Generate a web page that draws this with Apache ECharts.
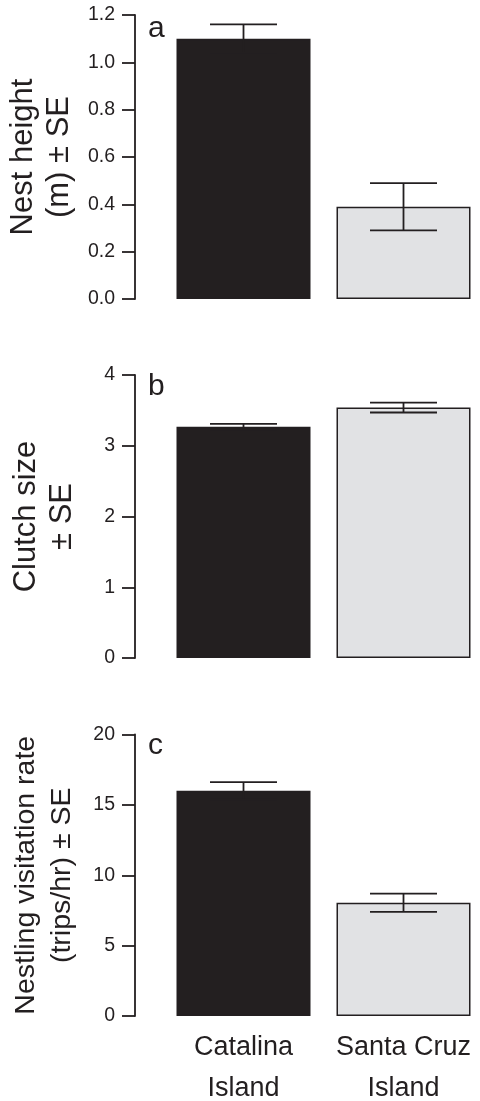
<!DOCTYPE html>
<html>
<head>
<meta charset="utf-8">
<script src="https://cdn.jsdelivr.net/npm/echarts@6/dist/echarts.min.js"></script>
<style>
html,body{margin:0;padding:0;background:#fff;}
#chart{width:480px;height:1101px;}
</style>
</head>
<body>
<div id="chart"></div>
<script>
// ---- data ----
const categories = ['Catalina\nIsland', 'Santa Cruz\nIsland'];
const nestHeight = [1.10, 0.39];
const nestHeightSE = [0.06, 0.10];
const clutchSize = [3.27, 3.54];
const clutchSizeSE = [0.04, 0.07];
const visitRate = [16.0, 8.05];
const visitRateSE = [0.62, 0.65];
const ticksA = ['0.0', '0.2', '0.4', '0.6', '0.8', '1.0', '1.2'];
const ticksB = ['0', '1', '2', '3', '4'];
const ticksC = ['0', '5', '10', '15', '20'];
const panelLetters = ['a', 'b', 'c'];
const yTitles = ['Nest height\n(m) \u00b1 SE', 'Clutch size\n\u00b1 SE', 'Nestling visitation rate\n(trips/hr) \u00b1 SE'];

// ---- style ----
const INK = '#231f20';
const FILLS = ['#231f20', '#e1e2e4'];
const FONT = "'Liberation Sans', Arial, Helvetica, sans-serif";
const panels = [
  {vals: nestHeight, se: nestHeightSE, ticks: ticksA, top: 15, height: 284, titleSize: 31, letterY: 31},
  {vals: clutchSize, se: clutchSizeSE, ticks: ticksB, top: 375, height: 283, titleSize: 31, letterY: 389},
  {vals: visitRate, se: visitRateSE, ticks: ticksC, top: 734.5, height: 281.5, titleSize: 28.5, letterY: 748}
];

const grid = [], xAxis = [], yAxis = [], series = [], graphic = [];
panels.forEach((p, k) => {
  grid.push({left: 163.5, width: 320, top: p.top, height: p.height, containLabel: false, outerBoundsMode: 'none'});
  const isLast = k === panels.length - 1;
  xAxis.push({
    type: 'category', gridIndex: k, data: categories,
    axisLine: {show: false}, axisTick: {show: false},
    axisLabel: {show: isLast, color: INK, fontFamily: FONT, fontSize: 27, lineHeight: 41, margin: 11, interval: 0}
  });
  const tmin = parseFloat(p.ticks[0]);
  const tmax = parseFloat(p.ticks[p.ticks.length - 1]);
  const step = parseFloat(p.ticks[1]) - tmin;
  yAxis.push({
    type: 'value', gridIndex: k, min: tmin, max: tmax, interval: step,
    offset: 28.5,
    splitLine: {show: false},
    axisLine: {show: true, lineStyle: {color: INK, width: 1.8}},
    axisTick: {show: true, length: 13, lineStyle: {color: INK, width: 1.8}},
    axisLabel: {
      color: INK, fontFamily: FONT, fontSize: 19.5, margin: 20,
      formatter: (v) => {
        const i = Math.round((v - tmin) / step);
        return p.ticks[i] !== undefined ? p.ticks[i] : '';
      }
    },
    name: yTitles[k], nameLocation: 'middle', nameGap: 54.5,
    nameTextStyle: {color: INK, fontFamily: FONT, fontSize: p.titleSize, lineHeight: 36}
  });
  series.push({
    type: 'bar', xAxisIndex: k, yAxisIndex: k, barWidth: 134,
    data: p.vals.map((v, i) => ({value: v, itemStyle: {color: FILLS[i]}})),
    itemStyle: {borderColor: INK, borderWidth: 1.5},
    silent: true, animation: false
  });
  series.push({
    type: 'custom', xAxisIndex: k, yAxisIndex: k, z: 5, animation: false, silent: true,
    encode: {x: 0, y: [1, 2]},
    data: p.vals.map((v, i) => [i, v - p.se[i], v + p.se[i]]),
    renderItem: (params, api) => {
      const x = api.value(0);
      const lo = api.coord([x, api.value(1)]);
      const hi = api.coord([x, api.value(2)]);
      const hw = 33.5;
      const st = {stroke: INK, lineWidth: 1.8};
      return {type: 'group', children: [
        {type: 'line', shape: {x1: hi[0], y1: hi[1], x2: lo[0], y2: lo[1]}, style: st},
        {type: 'line', shape: {x1: hi[0] - hw, y1: hi[1], x2: hi[0] + hw, y2: hi[1]}, style: st},
        {type: 'line', shape: {x1: lo[0] - hw, y1: lo[1], x2: lo[0] + hw, y2: lo[1]}, style: st}
      ]};
    }
  });
  graphic.push({
    type: 'text', left: 148, top: p.letterY - 17,
    style: {text: panelLetters[k], fill: INK, font: '30px ' + FONT}
  });
});

const chart = echarts.init(document.getElementById('chart'), null, {renderer: 'canvas'});
chart.setOption({
  animation: false,
  backgroundColor: '#ffffff',
  grid, xAxis, yAxis, series, graphic
});
</script>
</body>
</html>
